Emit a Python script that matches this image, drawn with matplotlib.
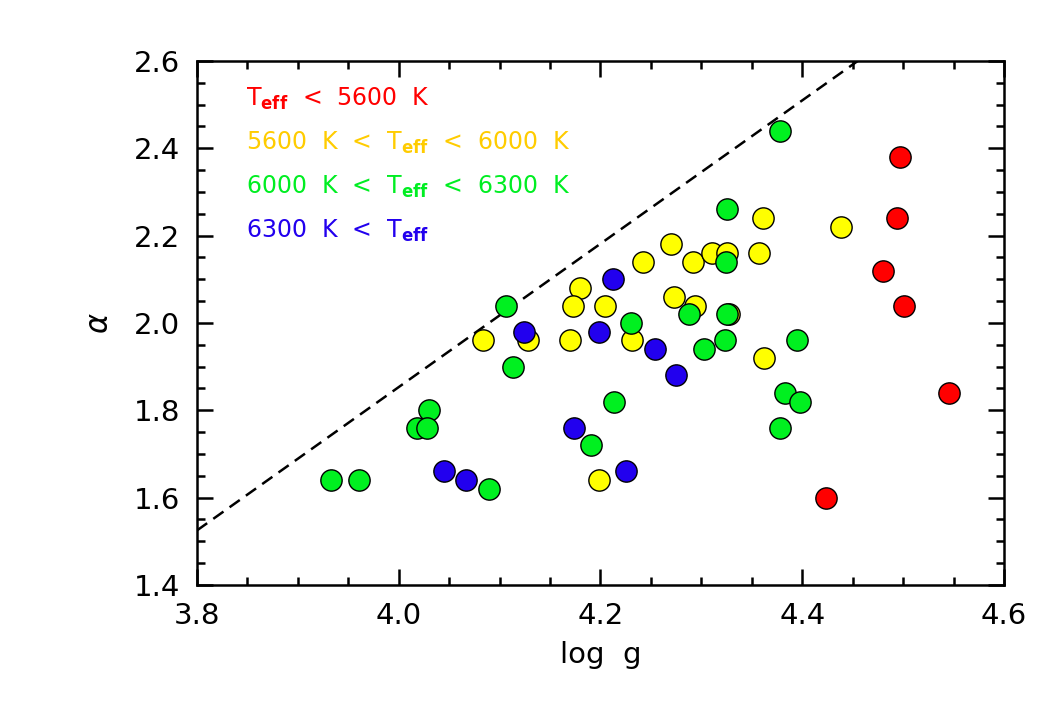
#!/usr/bin/env python3
# alpha vs log g scatter, coloured by Teff bins, with dashed boundary line
import matplotlib
matplotlib.use("Agg")
import matplotlib.pyplot as plt
import numpy as np

plt.rcParams["font.family"] = "DejaVu Sans"
plt.rcParams["mathtext.fontset"] = "dejavusans"

# data
red_logg = [4.497, 4.494, 4.480, 4.501, 4.545, 4.424]
red_alpha = [2.38, 2.24, 2.12, 2.04, 1.84, 1.60]

yel_logg = [4.361, 4.438, 4.270, 4.242, 4.292, 4.311, 4.325, 4.357, 4.204, 4.273,
            4.294, 4.327, 4.231, 4.362, 4.199, 4.084, 4.128, 4.180, 4.173, 4.170]
yel_alpha = [2.24, 2.22, 2.18, 2.14, 2.14, 2.16, 2.16, 2.16, 2.04, 2.06,
             2.04, 2.02, 1.96, 1.92, 1.64, 1.96, 1.96, 2.08, 2.04, 1.96]

grn_logg = [4.378, 4.325, 4.324, 4.288, 4.325, 4.230, 4.303, 4.323, 4.395, 4.213, 4.383,
            4.398, 4.378, 4.106, 4.113, 4.030, 4.018, 4.028, 4.191, 3.933, 3.961, 4.089]
grn_alpha = [2.44, 2.26, 2.14, 2.02, 2.02, 2.00, 1.94, 1.96, 1.96, 1.82, 1.84,
             1.82, 1.76, 2.04, 1.90, 1.80, 1.76, 1.76, 1.72, 1.64, 1.64, 1.62]

blu_logg = [4.212, 4.199, 4.254, 4.275, 4.225, 4.124, 4.174, 4.045, 4.067]
blu_alpha = [2.10, 1.98, 1.94, 1.88, 1.66, 1.98, 1.76, 1.66, 1.64]

line_logg = [3.80, 4.455]
line_alpha = [1.525, 2.60]

labels = [r"T$_{\mathbf{eff}}$  <  5600  K",
          r"5600  K  <  T$_{\mathbf{eff}}$  <  6000  K",
          r"6000  K  <  T$_{\mathbf{eff}}$  <  6300  K",
          r"6300  K  <  T$_{\mathbf{eff}}$"]
label_colors = ["#FF0000", "#FFCC00", "#00EE22", "#2200EE"]

RED = "#FF0000"; YEL = "#FFFF00"; GRN = "#00F020"; BLU = "#2200EE"

fig = plt.figure(figsize=(10.63, 7.09), dpi=100)
ax = fig.add_axes([0.1853, 0.1749, 0.7592, 0.7391])

ax.plot(line_logg, line_alpha, color="black", lw=1.8, linestyle=(0, (5.0, 3.0)), zorder=1)

for xs, ys, c in [(red_logg, red_alpha, RED), (yel_logg, yel_alpha, YEL),
                  (grn_logg, grn_alpha, GRN), (blu_logg, blu_alpha, BLU)]:
    ax.scatter(xs, ys, s=235, c=c, edgecolors="black", linewidths=1.0, zorder=3)

ax.set_xlim(3.8, 4.6)
ax.set_ylim(1.4, 2.6)
ax.set_xticks(np.arange(3.8, 4.61, 0.2))
ax.set_xticks(np.arange(3.8, 4.61, 0.05), minor=True)
ax.set_yticks(np.arange(1.4, 2.61, 0.2))
ax.set_yticks(np.arange(1.4, 2.61, 0.05), minor=True)
ax.xaxis.set_major_formatter(matplotlib.ticker.FormatStrFormatter("%.1f"))
ax.yaxis.set_major_formatter(matplotlib.ticker.FormatStrFormatter("%.1f"))
ax.tick_params(which="both", direction="in", top=True, right=True, width=1.8, labelsize=21)
ax.tick_params(which="major", length=11.5, pad=12)
ax.tick_params(which="minor", length=5.8)
for sp in ax.spines.values():
    sp.set_linewidth(1.8)

ax.set_xlabel("log  g", fontsize=21, labelpad=8)
ax.set_ylabel(r"$\alpha$", fontsize=22, labelpad=14)

for i, (txt, col) in enumerate(zip(labels, label_colors)):
    ax.text(0.061, 0.927 - i * 0.0835, txt, color=col, fontsize=17,
            transform=ax.transAxes, va="center", ha="left")

fig.savefig("out.png", dpi=100)
